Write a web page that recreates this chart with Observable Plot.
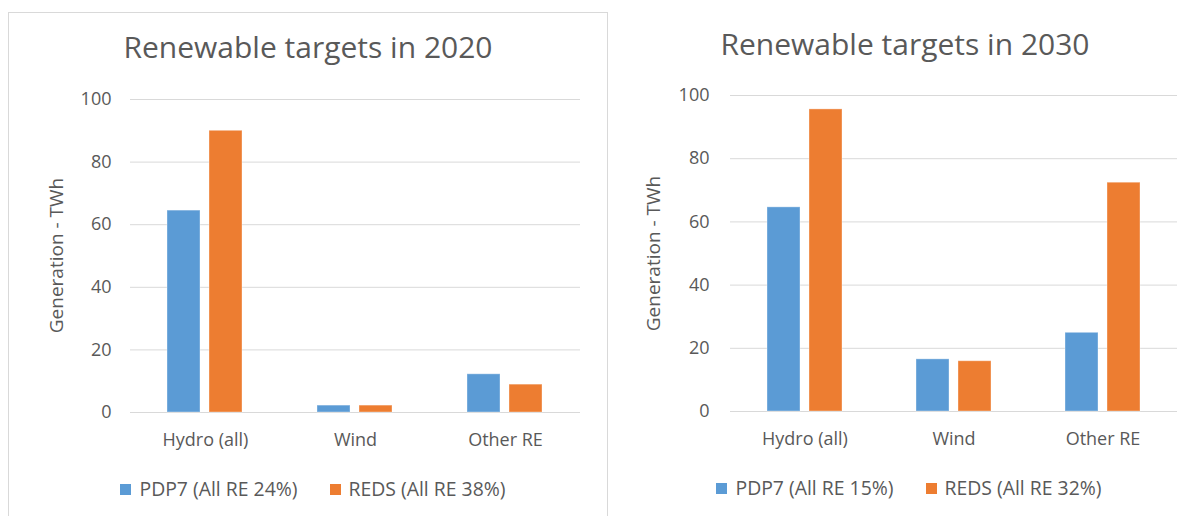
<!DOCTYPE html>
<html>
<head>
<meta charset="utf-8">
<script src="https://cdn.jsdelivr.net/npm/d3@7"></script>
<script src="https://cdn.jsdelivr.net/npm/@observablehq/plot@0.6"></script>
<style>
  html, body { margin: 0; padding: 0; background: #fff; overflow: hidden; }
  #root { position: relative; width: 1192px; height: 516px; font-family: "Open Sans", sans-serif; color: #595959; }
  .abs { position: absolute; }
  .title { font-size: 30px; line-height: 30px; white-space: nowrap; text-align: center; }
  .ytitle { font-size: 19px; line-height: 19px; width: 240px; text-align: center; white-space: nowrap; transform: rotate(-90deg); transform-origin: 50% 50%; }
  .legend { display: flex; justify-content: center; align-items: center; font-size: 19.4px; line-height: 20px; white-space: nowrap; }
  .legend .item { display: flex; align-items: center; }
  .legend .item + .item { margin-left: 32px; }
  .legend .sw { width: 11px; height: 11px; margin-right: 8px; }
  .frame { border: 1px solid #d9d9d9; box-sizing: border-box; }
</style>
</head>
<body>
<div id="root"></div>
<script>
// ---- data ----
const categories = ["Hydro (all)", "Wind", "Other RE"];
const series2020 = ["PDP7 (All RE 24%)", "REDS (All RE 38%)"];
const series2030 = ["PDP7 (All RE 15%)", "REDS (All RE 32%)"];
const pdp7_2020 = [64.5, 2.2, 12.2];
const reds_2020 = [90, 2.2, 8.9];
const pdp7_2030 = [64.6, 16.5, 24.9];
const reds_2030 = [95.6, 15.9, 72.4];
const yTicks = [0, 20, 40, 60, 80, 100];
const titles = ["Renewable targets in 2020", "Renewable targets in 2030"];
const yLabel = "Generation - TWh";
const colors = ["#5B9BD5", "#ED7D31"];

function table(series, a, b) {
  const rows = [];
  categories.forEach((c, i) => {
    rows.push({category: c, series: series[0], value: a[i]});
    rows.push({category: c, series: series[1], value: b[i]});
  });
  return rows;
}

const root = document.getElementById("root");

function panel(cfg) {
  const data = table(cfg.series, cfg.a, cfg.b);
  const svg = Plot.plot({
    width: cfg.width,
    height: cfg.height,
    marginLeft: cfg.ml,
    marginRight: cfg.mr,
    marginTop: cfg.mt,
    marginBottom: cfg.mb,
    style: {fontFamily: "'Open Sans', sans-serif", fontSize: "18px", color: "#595959", background: "transparent"},
    fx: {domain: categories, padding: 0, label: null, axis: null},
    x: {domain: cfg.series, paddingInner: 0.21, paddingOuter: 0.85, axis: null},
    y: {domain: [0, 100], ticks: yTicks, label: null},
    color: {domain: cfg.series, range: colors},
    marks: [
      Plot.gridY(yTicks, {stroke: "#d9d9d9", strokeOpacity: 1, strokeWidth: 1}),
      Plot.barY(data, {fx: "category", x: "series", y: "value", fill: "series", stroke: "white", strokeOpacity: 0.35, strokeWidth: 1}),
      Plot.axisY(yTicks, {tickSize: 0, tickPadding: cfg.tp, label: null, fontSize: 18}),
      Plot.axisFx({anchor: "bottom", tickSize: 0, tickPadding: 21, label: null, fontSize: 18})
    ]
  });
  svg.classList.add("abs");
  svg.style.left = cfg.left + "px";
  svg.style.top = "0px";
  root.appendChild(svg);

  const t = document.createElement("div");
  t.className = "abs title";
  t.textContent = cfg.title;
  t.style.left = (cfg.titleCx - 300) + "px";
  t.style.width = "600px";
  t.style.top = cfg.titleTop + "px";
  root.appendChild(t);

  const yt = document.createElement("div");
  yt.className = "abs ytitle";
  yt.textContent = yLabel;
  yt.style.left = (cfg.ytCx - 120) + "px";
  yt.style.top = (cfg.ytCy - 9.5) + "px";
  root.appendChild(yt);

  const lg = document.createElement("div");
  lg.className = "abs legend";
  lg.style.left = (cfg.legCx - 300) + "px";
  lg.style.width = "600px";
  lg.style.top = (cfg.legCy - 10) + "px";
  cfg.series.forEach((s, i) => {
    const it = document.createElement("div");
    it.className = "item";
    const sw = document.createElement("div");
    sw.className = "sw";
    sw.style.background = colors[i];
    const tx = document.createElement("span");
    tx.textContent = s;
    it.appendChild(sw);
    it.appendChild(tx);
    lg.appendChild(it);
  });
  root.appendChild(lg);
}

// left panel frame
const fr = document.createElement("div");
fr.className = "abs frame";
fr.style.left = "8px"; fr.style.top = "12px"; fr.style.width = "600px"; fr.style.height = "520px";
root.appendChild(fr);

panel({series: series2020, a: pdp7_2020, b: reds_2020, left: 0, width: 607, height: 470,
  ml: 130, mr: 27, mt: 99, mb: 58, tp: 19, title: titles[0], titleCx: 308, titleTop: 32,
  ytCx: 56, ytCy: 255, legCx: 313, legCy: 489});
panel({series: series2030, a: pdp7_2030, b: reds_2030, left: 600, width: 592, height: 470,
  ml: 129, mr: 15, mt: 95, mb: 59, tp: 21, title: titles[1], titleCx: 905, titleTop: 29,
  ytCx: 653, ytCy: 253, legCx: 909, legCy: 488});
</script>
</body>
</html>
